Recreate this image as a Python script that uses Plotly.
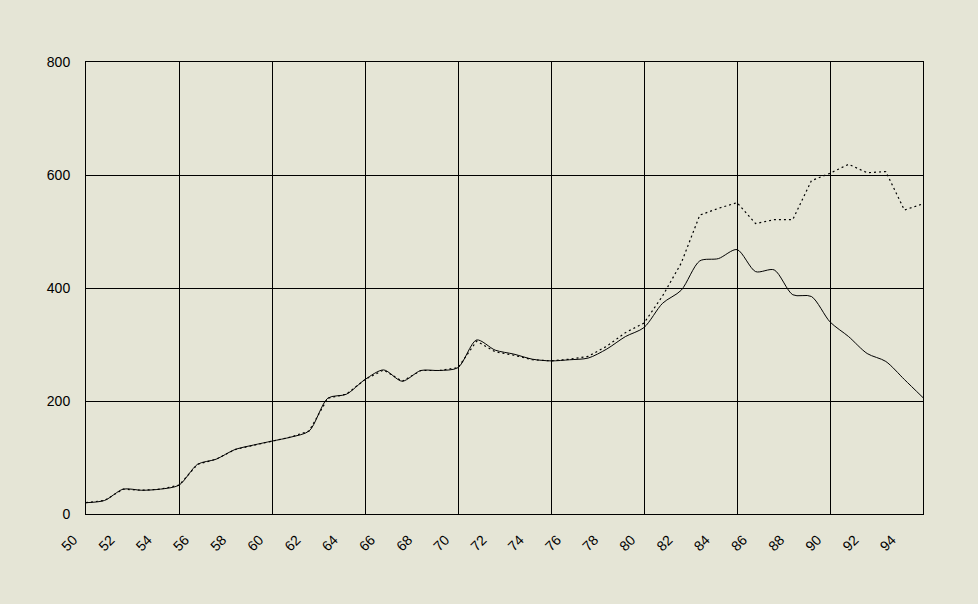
import plotly.graph_objects as go

years = list(range(1951, 1997))
solid_vals = [20, 24, 44, 42, 44, 51, 88, 97, 114, 122,
              129, 136, 147, 205, 212, 238, 255, 235, 254, 254,
              259, 308, 290, 283, 274, 271, 273, 276, 292, 314,
              330, 373, 396, 448, 452, 468, 429, 432, 388, 385,
              340, 314, 284, 270, 238, 206]
dotted_vals = [20, 24, 44, 42, 44, 51, 88, 97, 114, 122,
               129, 136, 147, 205, 212, 238, 255, 235, 254, 254,
               259, 306, 287, 281, 273, 271, 274, 279, 297, 321,
               338, 386, 444, 529, 541, 551, 514, 521, 521, 590,
               603, 619, 604, 606, 538, 549]
tick_years = list(range(1950, 1996, 2))
tick_labels = [str(y % 100) for y in tick_years]
y_ticks = [0, 200, 400, 600, 800]

BG = "#E5E5D6"
FONT = dict(family="Liberation Sans, Arial, sans-serif", size=14, color="black")

fig = go.Figure()
fig.add_trace(go.Scatter(x=years, y=dotted_vals, mode="lines",
                         line=dict(color="black", width=1.2, dash="2px,3px", shape="linear"),
                         showlegend=False, hoverinfo="skip"))
fig.add_trace(go.Scatter(x=years, y=solid_vals, mode="lines",
                         line=dict(color="black", width=1, shape="spline", smoothing=0.8),
                         showlegend=False, hoverinfo="skip"))
# empty trace only to create the label axis subplot
fig.add_trace(go.Scatter(x=[], y=[], xaxis="x2", yaxis="y2", mode="lines",
                         showlegend=False, hoverinfo="skip"))

ml = 40
plot_w = 978 - ml - 55
px_per_year = 837 / 45.0
dom_main = (86 - ml) / plot_w
dom_lab = (86 - px_per_year - ml) / plot_w
shift = 6 / px_per_year

fig.update_layout(
    width=978, height=604,
    margin=dict(l=ml, r=55, t=62, b=90),
    paper_bgcolor=BG, plot_bgcolor="rgba(0,0,0,0)",
    font=FONT,
    xaxis=dict(domain=[dom_main, 1], range=[1951, 1996], tick0=1951, dtick=5,
               showticklabels=False, ticks="", showgrid=True, gridcolor="black", gridwidth=1,
               showline=True, mirror=True, linecolor="black", linewidth=1, zeroline=False),
    yaxis=dict(range=[0, 800], tickvals=y_ticks, ticks="", showgrid=True,
               gridcolor="black", gridwidth=1, showline=True, mirror=True,
               linecolor="black", linewidth=1, zeroline=False, ticklabelstandoff=12,
               tickfont=FONT),
    xaxis2=dict(domain=[dom_lab, 1], range=[1950 - shift, 1996 - shift], anchor="y2",
                tickvals=tick_years, ticktext=tick_labels, tickangle=-45,
                showgrid=False, showline=False, zeroline=False, ticks="",
                ticklabelstandoff=14, tickfont=FONT),
    yaxis2=dict(domain=[0, 1], anchor="x2", range=[0, 1],
                showgrid=False, zeroline=False, showline=False, showticklabels=False, ticks=""),
)

fig.write_html("out.html", config={"displayModeBar": False},
               post_script="document.body.style.margin='0px';")
